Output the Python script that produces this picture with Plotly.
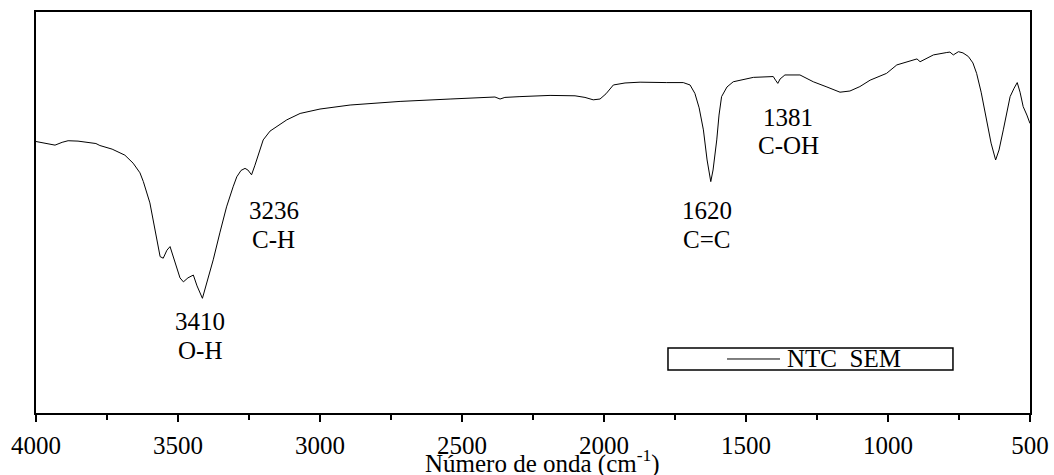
import plotly.graph_objects as go

# FTIR spectrum (wavenumber, cm-1) and transmittance (arbitrary %)
wavenumber = [4000, 3965, 3933, 3908, 3887, 3852, 3817, 3789, 3775, 3732, 3687, 3658, 3634, 3622,
              3599, 3581, 3563, 3552, 3539, 3528, 3511, 3493, 3481, 3465, 3446, 3433, 3414, 3401,
              3376, 3352, 3329, 3306, 3293, 3278, 3264, 3254, 3241, 3229, 3211, 3200, 3176, 3152,
              3117, 3070, 3000, 2894, 2718, 2542, 2437, 2384, 2366, 2349, 2296, 2190, 2102, 2067,
              2038, 2014, 1993, 1967, 1926, 1873, 1779, 1721, 1697, 1680, 1665, 1650, 1637, 1624,
              1616, 1603, 1595, 1586, 1567, 1545, 1474, 1433, 1404, 1396, 1388, 1380, 1363, 1310,
              1263, 1215, 1169, 1134, 1099, 1063, 1005, 969, 911, 898, 887, 840, 793, 782, 770,
              752, 736, 717, 701, 688, 672, 652, 637, 621, 609, 594, 581, 570, 556, 545, 535, 524,
              511, 500]
transmittance = [67.7, 67.3, 66.8, 67.5, 67.9, 67.8, 67.5, 67.2, 66.7, 65.8, 64.3, 62.3, 59.9, 57.7,
                 52.4, 46.1, 39.0, 38.6, 40.6, 41.5, 37.7, 33.7, 32.7, 33.7, 34.4, 31.7, 28.6, 31.9,
                 38.2, 45.1, 51.4, 56.4, 58.9, 60.5, 61.0, 60.6, 59.4, 61.8, 65.6, 68.1, 70.3, 71.4,
                 73.1, 74.7, 75.8, 76.8, 77.7, 78.3, 78.7, 78.8, 78.3, 78.7, 78.9, 79.2, 79.1, 78.7,
                 78.1, 78.3, 79.6, 81.8, 82.3, 82.5, 82.4, 82.4, 81.8, 79.7, 76.1, 70.6, 63.1, 57.7,
                 60.6, 68.1, 74.3, 78.9, 81.3, 82.6, 83.7, 83.9, 83.9, 83.0, 82.2, 83.3, 84.3, 84.3,
                 82.6, 81.3, 80.0, 80.3, 81.4, 83.0, 84.7, 86.8, 88.0, 88.3, 87.6, 89.3, 89.9, 90.0, 89.3,
                 90.1, 89.8, 88.9, 87.3, 84.7, 80.0, 73.1, 67.3, 63.1, 65.6, 70.6, 75.6, 78.9, 81.0, 82.4,
                 80.0, 76.4, 74.3, 72.2]

series_name = "NTC SEM"

# peak labels: (x position, y position, text)
label_x = [3423, 3423, 3162, 3162, 1638, 1638, 1352, 1352]
label_y = [22.7, 15.5, 50.5, 43.3, 50.5, 43.3, 73.8, 66.6]
label_text = ["3410", "O-H", "3236", "C-H", "1620", "C=C", "1381", "C-OH"]

tick_vals = [4000, 3500, 3000, 2500, 2000, 1500, 1000, 500]

FONT = "Liberation Serif, Times New Roman, serif"
FS = 25

fig = go.Figure()
fig.add_trace(go.Scatter(x=wavenumber, y=transmittance, mode="lines", name=series_name,
                         line=dict(color="black", width=1), showlegend=False))

for x, y, t in zip(label_x, label_y, label_text):
    fig.add_annotation(x=x, y=y, xref="x", yref="y", text=t, showarrow=False,
                       xanchor="center", yanchor="middle",
                       font=dict(family=FONT, size=FS, color="black"))

# legend box (drawn)
fig.add_shape(type="rect", xref="paper", yref="paper", x0=0.6358, x1=0.9225, y0=0.1072, y1=0.1621,
              line=dict(color="black", width=1.5), fillcolor="white")
fig.add_shape(type="line", xref="paper", yref="paper", x0=0.6952, x1=0.7485, y0=0.1347, y1=0.1347,
              line=dict(color="black", width=1))
fig.add_annotation(xref="paper", yref="paper", x=0.754, y=0.1347, text="NTC\u00a0\u00a0SEM",
                   showarrow=False, xanchor="left", yanchor="middle",
                   font=dict(family=FONT, size=FS, color="black"))

# axis title
fig.add_annotation(xref="paper", yref="paper", x=0.510, y=-0.120,
                   text="Número de onda (cm<sup>-1</sup>)", showarrow=False,
                   xanchor="center", yanchor="middle",
                   font=dict(family=FONT, size=FS, color="black"))

fig.update_layout(
    width=1054, height=475,
    margin=dict(l=36, r=24, t=12, b=62, autoexpand=False),
    paper_bgcolor="white", plot_bgcolor="white",
    font=dict(family=FONT, size=FS, color="black"),
    xaxis=dict(range=[4000, 500], tickvals=tick_vals, ticks="outside", ticklen=7, tickwidth=2,
               tickcolor="black", showline=True, linecolor="black", linewidth=2, mirror=True,
               showgrid=False, zeroline=False, automargin=False, ticklabelstandoff=2,
               minor=dict(dtick=250, ticks="outside", ticklen=5, tickwidth=2, tickcolor="black",
                          showgrid=False),
               tickfont=dict(family=FONT, size=FS, color="black")),
    yaxis=dict(range=[0, 100], showticklabels=False, ticks="", showline=True, linecolor="black",
               linewidth=2, mirror=True, showgrid=False, zeroline=False, automargin=False),
)

fig.write_html("out.html")
